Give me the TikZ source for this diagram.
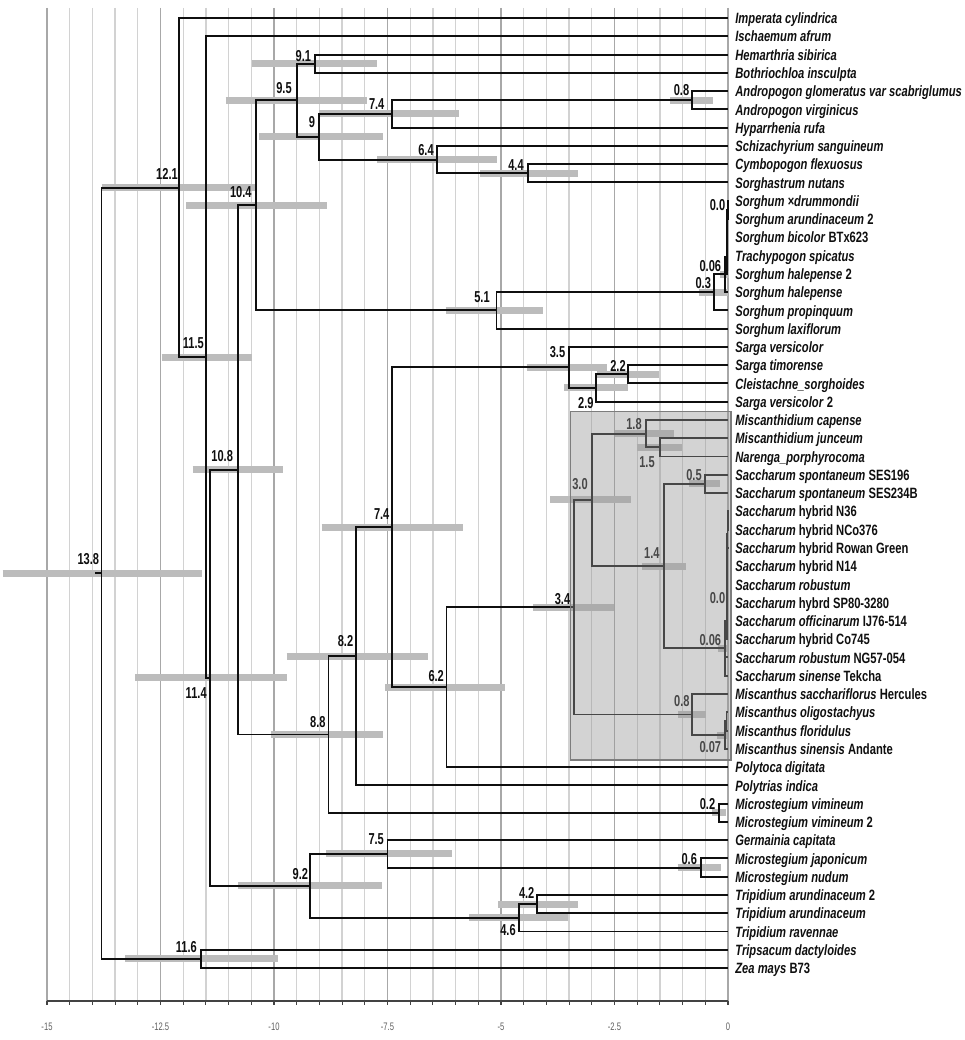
\documentclass[tikz,border=0pt]{standalone}
\usepackage{fontspec}
\setmainfont{Liberation Sans}
\newfontfamily\tipf{Liberation Sans}[FakeStretch=0.75]
\newfontfamily\agef{Liberation Sans}[FakeStretch=0.70]
\definecolor{treec}{RGB}{15,15,15}
\definecolor{barc}{RGB}{188,188,188}
\definecolor{gridc}{RGB}{210,210,210}
\definecolor{gridk}{RGB}{168,168,168}
\definecolor{axc}{RGB}{95,95,95}
\definecolor{ovc}{RGB}{150,150,150}
\definecolor{ovb}{RGB}{125,125,125}
\tikzset{
  tree/.style={draw=treec, line width=1.1pt},
  hpd/.style={draw=barc, line width=4pt},
  gridlight/.style={draw=gridc, line width=0.7pt},
  griddark/.style={draw=gridk, line width=0.85pt},
  axisline/.style={draw=axc!70!black, line width=0.9pt},
  tip/.style={anchor=base west, inner sep=0pt, text=treec, font=\tipf\fontsize{8.5}{10}\selectfont\bfseries},
  age/.style={anchor=center, inner sep=0pt, text=treec, font=\agef\fontsize{9}{10}\selectfont\bfseries},
  axlab/.style={anchor=center, inner sep=0pt, text=axc, font=\agef\fontsize{6.2}{7}\selectfont},
  overlay box/.style={fill=ovc, fill opacity=0.42, draw=ovb, line width=0.6pt}
}
\begin{document}
\begin{tikzpicture}[x=0.02cm, y=-0.02cm]
\useasboundingbox (0,0) rectangle (964,1040);
% grid
\foreach \k in {0,...,30} { \draw[gridlight] ({728-22.7*\k},8) -- ({728-22.7*\k},1001); }
\foreach \k in {0,5,...,30} { \draw[griddark] ({728-22.7*\k},8) -- ({728-22.7*\k},1001); }
% axis
\draw[axisline] (47,1001) -- (728,1001);
\foreach \k in {0,...,30} { \draw[axisline, line width=0.6pt] ({728-22.7*\k},1001) -- ({728-22.7*\k},1005); }
\foreach \v/\xx in {-15/47,-12.5/160.5,-10/274,-7.5/387.5,-5/501,-2.5/614.5,0/728} { \node[axlab] (ax\xx) at (\xx,1027) {\v}; }
% HPD bars
\foreach \a/\b/\y in {2.7/201.7/573.2, 101.7/255.7/187.55, 125/278.3/958.9, 161.7/251.7/357.1, 135/287.3/677.9,
 192.7/282.7/469.9, 186/326.7/205.34, 225.7/367.3/100.22, 251.7/376.7/63.68, 259/383.3/136.76, 319/459/113.92,
 377.3/496.7/159.6, 480/577.7/173.3, 670/713.3/100.22, 445.7/543.3/310.46, 699.3/728/292.34, 720/729/274.35,
 526.7/606.7/367.42, 564/627.7/387.97, 596.7/659.3/374.27, 615/674/433.64, 636.7/681.7/447.35, 550/631/499.9,
 689.3/720/483.89, 641.7/685.7/566.1, 533.3/614.3/607.2, 718/727/648.4, 678.3/706/714.5, 717/727/735.1,
 321.7/463.3/527.3, 385/505/687.1, 286.7/427.7/656.3, 271/383.3/734.5, 711.7/726/812.75, 326/451.7/853.85,
 677.7/721/867.56, 238.3/381.7/885.8, 498.3/578.3/904.1, 469.3/568.3/917.8}
 { \draw[hpd] (\a,\y) -- (\b,\y); }
% tips
\foreach \n [count=\i] in {
\textit{Imperata cylindrica},
\textit{Ischaemum afrum},
\textit{Hemarthria sibirica},
\textit{Bothriochloa insculpta},
\textit{Andropogon glomeratus var scabriglumus},
\textit{Andropogon virginicus},
\textit{Hyparrhenia rufa},
\textit{Schizachyrium sanguineum},
\textit{Cymbopogon flexuosus},
\textit{Sorghastrum nutans},
\textit{Sorghum ×drummondii},
\textit{Sorghum arundinaceum} 2,
\textit{Sorghum bicolor} BTx623,
\textit{Trachypogon spicatus},
\textit{Sorghum halepense} 2,
\textit{Sorghum halepense},
\textit{Sorghum propinquum},
\textit{Sorghum laxiflorum},
\textit{Sarga versicolor},
\textit{Sarga timorense},
\textit{Cleistachne\_sorghoides},
\textit{Sarga versicolor} 2,
\textit{Miscanthidium capense},
\textit{Miscanthidium junceum},
\textit{Narenga\_porphyrocoma},
\textit{Saccharum spontaneum} SES196,
\textit{Saccharum spontaneum} SES234B,
\textit{Saccharum} hybrid N36,
\textit{Saccharum} hybrid NCo376,
\textit{Saccharum} hybrid Rowan Green,
\textit{Saccharum} hybrid N14,
\textit{Saccharum robustum},
\textit{Saccharum} hybrd SP80-3280,
\textit{Saccharum officinarum} IJ76-514,
\textit{Saccharum} hybrid Co745,
\textit{Saccharum robustum} NG57-054,
\textit{Saccharum sinense} Tekcha,
\textit{Miscanthus sacchariflorus} Hercules,
\textit{Miscanthus oligostachyus},
\textit{Miscanthus floridulus},
\textit{Miscanthus sinensis} Andante,
\textit{Polytoca digitata},
\textit{Polytrias indica},
\textit{Microstegium vimineum},
\textit{Microstegium vimineum} 2,
\textit{Germainia capitata},
\textit{Microstegium japonicum},
\textit{Microstegium nudum},
\textit{Tripidium arundinaceum} 2,
\textit{Tripidium arundinaceum},
\textit{Tripidium ravennae},
\textit{Tripsacum dactyloides},
\textit{Zea mays} B73}
{ \coordinate (e\i) at (728,{18+(\i-1)*18.27});
  \node[tip] (t\i) at (735,{18+(\i-1)*18.27+5.7}) {\n}; }
% internal nodes
\coordinate (rs) at (95,573.2);
\coordinate (nRoot) at (101.5,573.2);
\coordinate (n121) at (178.7,187.55);
\coordinate (n116) at (201.4,958.9);
\coordinate (n115) at (205.9,357.1);
\coordinate (n114) at (210.4,677.9);
\coordinate (n108) at (237.7,469.9);
\coordinate (n104) at (255.8,205.34);
\coordinate (n95) at (296.7,100.22);
\coordinate (n91) at (314.9,63.68);
\coordinate (n90) at (319.4,136.76);
\coordinate (n74a) at (392,113.92);
\coordinate (n08a) at (691.7,100.22);
\coordinate (n64) at (437.4,159.6);
\coordinate (n44) at (528.2,173.3);
\coordinate (n51) at (496.5,310.46);
\coordinate (n03) at (714.4,292.34);
\coordinate (n006s) at (725.3,274.35);
\coordinate (s4) at (726.6,256.65);
\coordinate (s3) at (727.0,239.52);
\coordinate (s2) at (727.3,223.54);
\coordinate (s1) at (727.6,209.84);
\coordinate (n88) at (328.5,734.5);
\coordinate (n82) at (355.7,656.3);
\coordinate (n74b) at (392,527.3);
\coordinate (n35) at (569.1,367.42);
\coordinate (n29) at (596.3,387.97);
\coordinate (n22) at (628.1,374.27);
\coordinate (n62) at (446.5,687.1);
\coordinate (n34) at (573.6,607.2);
\coordinate (n30) at (591.8,499.9);
\coordinate (n18) at (646.3,433.64);
\coordinate (n15) at (659.9,447.35);
\coordinate (n14) at (664.4,566.1);
\coordinate (n05) at (705.3,483.89);
\coordinate (n006c) at (725.3,648.4);
\coordinate (c7) at (727.0,621.05);
\coordinate (c6) at (727.1,602.93);
\coordinate (c5) at (727.2,584.94);
\coordinate (c4) at (727.3,567.24);
\coordinate (c3) at (727.4,550.11);
\coordinate (c2) at (727.5,534.13);
\coordinate (c1) at (727.6,520.43);
\coordinate (n08m) at (691.7,714.5);
\coordinate (n007) at (724.8,735.1);
\coordinate (m1) at (726.5,721.4);
\coordinate (n02) at (718.9,812.75);
\coordinate (n92) at (310.3,885.8);
\coordinate (n75) at (387.5,853.85);
\coordinate (n06) at (700.8,867.56);
\coordinate (n46) at (519.2,917.8);
\coordinate (n42) at (537.3,904.1);
% edges
\draw[tree] (rs) -- (nRoot);
\foreach \p/\c in {nRoot/n121, nRoot/n116, n116/e52, n116/e53, n121/e1, n121/n115, n115/e2, n115/n114,
 n114/n108, n114/n92, n108/n104, n108/n88, n104/n95, n104/n51, n95/n91, n95/n90, n91/e3, n91/e4,
 n90/n74a, n90/n64, n74a/n08a, n74a/e7, n08a/e5, n08a/e6, n64/e8, n64/n44, n44/e9, n44/e10,
 n51/n03, n51/e18, n03/n006s, n03/e17, n006s/s4, n006s/e16, s4/s3, s4/e15, s3/s2, s3/e14, s2/s1, s2/e13,
 s1/e11, s1/e12, n88/n82, n88/n02, n82/n74b, n82/e43, n74b/n35, n74b/n62, n35/e19, n35/n29,
 n29/n22, n29/e22, n22/e20, n22/e21, n62/n34, n62/e42, n34/n30, n34/n08m, n30/n18, n30/n14,
 n18/e23, n18/n15, n15/e24, n15/e25, n14/n05, n14/n006c, n05/e26, n05/e27,
 n006c/c7, n006c/e36, n006c/e37, c7/c6, c7/e35, c6/c5, c6/e34, c5/c4, c5/e33, c4/c3, c4/e32,
 c3/c2, c3/e31, c2/c1, c2/e30, c1/e28, c1/e29, n08m/e38, n08m/n007, n007/m1, n007/e41, m1/e39, m1/e40,
 n02/e44, n02/e45, n92/n75, n92/n46, n75/e46, n75/n06, n06/e47, n06/e48, n46/n42, n46/e51, n42/e49, n42/e50}
 { \draw[tree] (\p) |- (\c); }
% age labels
\foreach \t/\x/\y [count=\j] in {9.1/303.3/56, 9.5/284/88, 7.4/376.7/104, 9/312/122, 6.4/426/150.5, 12.1/167/174,
 10.4/240.8/192, 0.8/681.5/90.5, 4.4/516/165, 5.1/482/296.7, 11.5/193.3/343, 0.0/717.5/205.3, 0.06/710.3/265.8,
 0.3/703.2/283, 3.5/557.5/352, 2.2/618/366, 2.9/585.8/403.3, 1.8/634/424, 1.5/647/462.5, 3.0/580/484.5,
 0.5/694/475.5, 1.4/651.8/553, 3.4/562.5/598.7, 0.0/717.5/598.3, 0.06/710.3/639.7, 0.8/681.8/700.8,
 0.07/710.3/747.5, 10.8/222.2/456, 13.8/88.3/559.3, 7.4/381.7/514.5, 8.2/345.5/640.8, 6.2/436.2/676.3,
 11.4/196.2/693.3, 8.8/317.8/722.2, 7.5/376.2/839.2, 9.2/300.3/874.2, 11.6/186.3/947, 0.2/707.5/803.8,
 0.6/689.2/859.2, 4.2/526.7/892.8, 4.6/508/930.3}
 { \node[age] (a\j) at (\x,\y) {\t}; }
% highlighted clade
\path[overlay box] (570.7,411.7) rectangle (731,760);
\end{tikzpicture}
\end{document}
